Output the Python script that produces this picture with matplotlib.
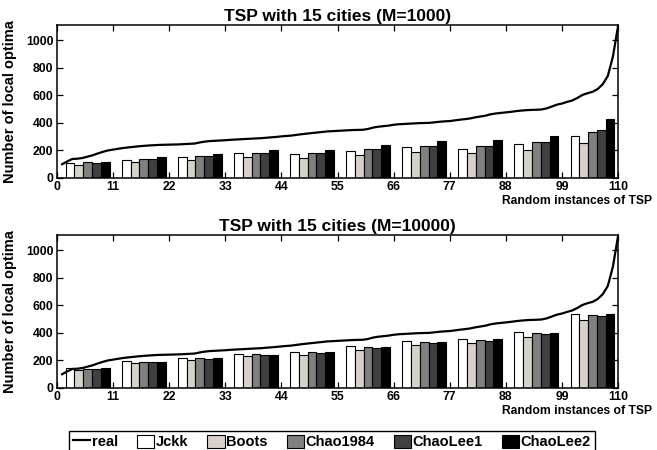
import matplotlib
matplotlib.use("Agg")
import matplotlib.pyplot as plt
import numpy as np
from matplotlib.patches import Patch
from matplotlib.lines import Line2D

plt.rcParams['font.family'] = ['Liberation Sans', 'DejaVu Sans']
plt.rcParams['font.weight'] = 'bold'
plt.rcParams['axes.titleweight'] = 'bold'
plt.rcParams['axes.labelweight'] = 'bold'

# ---------------- data ----------------
instances = list(range(1, 111))
real = [100, 120, 138, 140, 145, 155, 165, 178, 190, 200,
        206, 212, 218, 222, 226, 230, 233, 236, 238, 240,
        241, 242, 243, 244, 246, 248, 250, 258, 264, 268,
        270, 272, 274, 277, 279, 281, 283, 285, 287, 289,
        292, 295, 298, 302, 305, 308, 313, 318, 322, 326,
        330, 334, 338, 340, 342, 344, 346, 348, 349, 350,
        356, 366, 372, 376, 380, 386, 390, 392, 394, 396,
        398, 399, 400, 404, 408, 411, 413, 418, 423, 427,
        432, 440, 446, 452, 462, 468, 472, 476, 480, 485,
        489, 492, 494, 495, 497, 505, 518, 532, 540, 552,
        562, 580, 602, 615, 625, 645, 680, 740, 880, 1100]

group_centers = [6, 17, 28, 39, 50, 61, 72, 83, 94, 105]
estimators = ['Jckk', 'Boots', 'Chao1984', 'ChaoLee1', 'ChaoLee2']

# M = 1000
jckk_1000     = [106, 133, 152, 181, 173, 198, 222, 214, 246, 306]
boots_1000    = [92, 116, 130, 152, 147, 166, 188, 181, 205, 251]
chao1984_1000 = [113, 140, 157, 183, 183, 207, 234, 231, 260, 337]
chaolee1_1000 = [108, 135, 157, 183, 183, 207, 234, 231, 263, 349]
chaolee2_1000 = [118, 152, 176, 205, 202, 241, 267, 275, 306, 427]

# M = 10000
jckk_10000     = [145, 193, 221, 250, 262, 302, 340, 357, 405, 540]
boots_10000    = [133, 181, 205, 233, 243, 279, 314, 329, 369, 490]
chao1984_10000 = [140, 190, 217, 245, 260, 298, 333, 350, 398, 531]
chaolee1_10000 = [136, 186, 212, 240, 255, 290, 326, 343, 390, 521]
chaolee2_10000 = [143, 190, 217, 243, 260, 298, 333, 357, 402, 538]

titles = ['TSP with 15 cities (M=1000)', 'TSP with 15 cities (M=10000)']
xticks = list(range(0, 111, 11))
yticks = [0, 200, 400, 600, 800, 1000]

colors = ['#ffffff', '#d6d2ca', '#808080', '#404040', '#000000']

panels = [
    [jckk_1000, boots_1000, chao1984_1000, chaolee1_1000, chaolee2_1000],
    [jckk_10000, boots_10000, chao1984_10000, chaolee1_10000, chaolee2_10000],
]

# ---------------- figure ----------------
W, H = 657, 450
fig = plt.figure(figsize=(W / 100, H / 100), dpi=100)

def rect(l, t, r, b):
    return [l / W, 1 - b / H, (r - l) / W, (b - t) / H]

axes = [fig.add_axes(rect(57, 25, 618, 178)), fig.add_axes(rect(57, 235, 618, 388))]

bw = 1.72
for ax, series, title in zip(axes, panels, titles):
    centers = np.array(group_centers, dtype=float)
    for i, (vals, c) in enumerate(zip(series, colors)):
        ax.bar(centers + (i - 2) * bw, vals, width=bw, color=c,
               edgecolor='black', linewidth=0.8, zorder=2)
    ax.plot(instances, real, color='black', linewidth=1.6, zorder=3)
    ax.set_xlim(0, 110)
    ax.set_ylim(0, 1110)
    ax.set_xticks(xticks)
    ax.set_yticks(yticks)
    ax.tick_params(direction='in', top=True, right=True, length=4,
                   width=0.9, labelsize=8.8, pad=2.5)
    for lab in ax.get_xticklabels() + ax.get_yticklabels():
        lab.set_fontweight('bold')
    for s in ax.spines.values():
        s.set_linewidth(1.1)
    ax.set_title(title, fontsize=12.5, fontweight='bold', pad=3)
    ax.set_ylabel('Number of local optima', fontsize=10.5, fontweight='bold')
    ax.yaxis.set_label_coords(-0.072, 0.5)
    ax.set_xlabel('Random instances of TSP', fontsize=8.7, fontweight='bold',
                  ha='right', va='top')
    ax.xaxis.set_label_coords((652 - 57) / 561, -0.108)

handles = [Line2D([0], [0], color='black', linewidth=1.6)]
handles += [Patch(facecolor=c, edgecolor='black', linewidth=0.8) for c in colors]
labels = ['real'] + estimators
leg = fig.legend(handles, labels, loc='upper center', ncol=6,
                 bbox_to_anchor=(332 / W, 1 - 431 / H), frameon=True,
                 fancybox=False, edgecolor='black', framealpha=1,
                 prop={'weight': 'bold', 'size': 10.5},
                 handlelength=1.2, handleheight=1.0, handletextpad=0.1,
                 columnspacing=1.3, borderpad=0.25, borderaxespad=0)
leg.get_frame().set_linewidth(1.0)

fig.savefig('out.png', dpi=100)
